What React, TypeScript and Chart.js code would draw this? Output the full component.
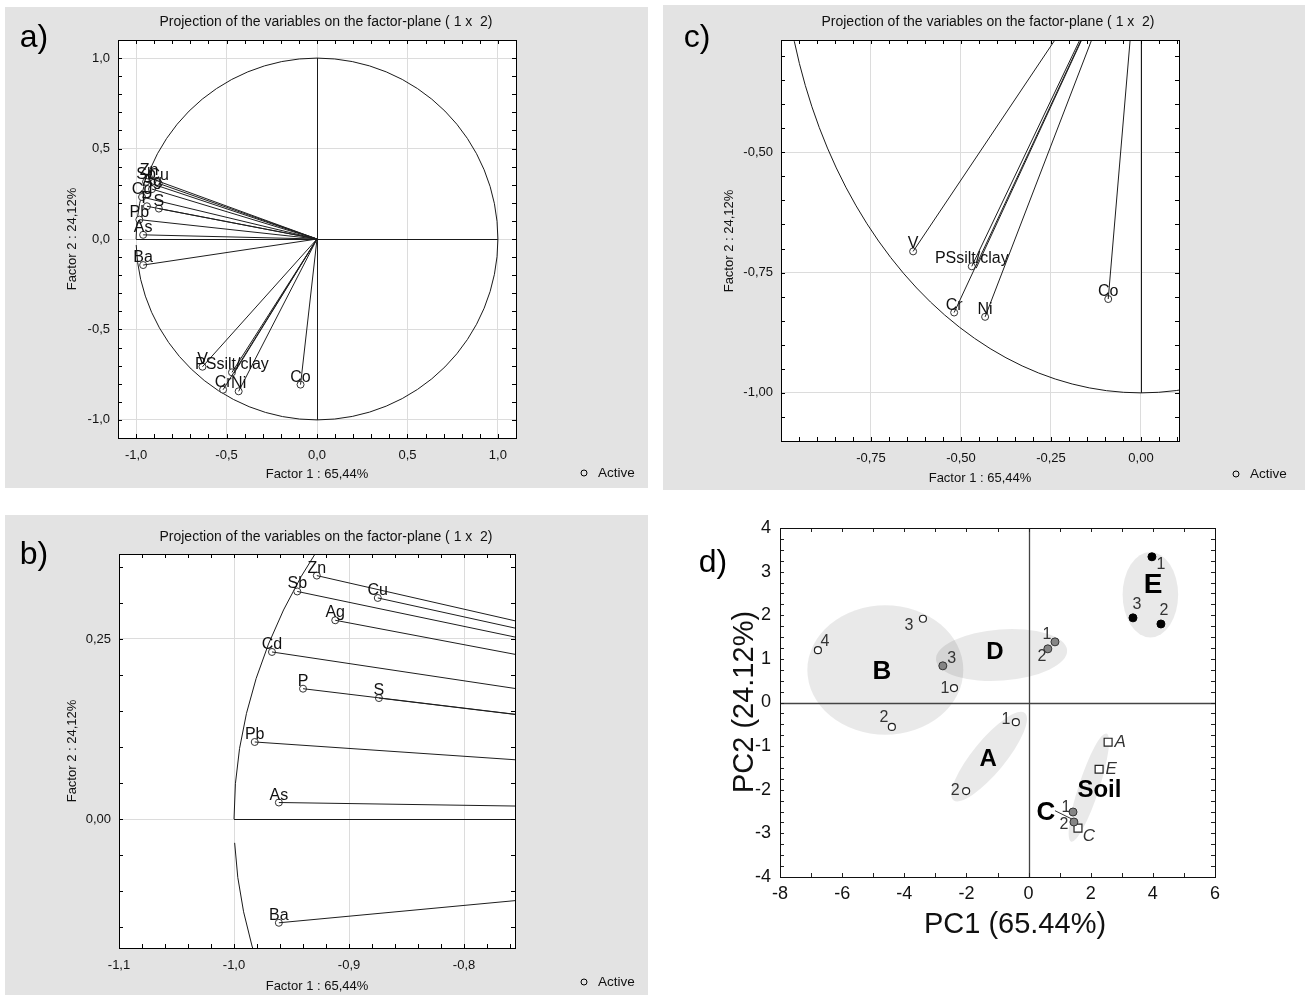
import React, { useEffect, useRef } from 'react';
import { Chart, registerables } from 'chart.js';

Chart.register(...registerables);

const FONT = '"Liberation Sans", Arial, Helvetica, sans-serif';
const PANEL_GRAY = '#e3e3e3';

// ---------- Variable loadings (Factor 1, Factor 2) ----------
const variableNames = ['Zn', 'Sb', 'Cu', 'Ag', 'Cd', 'P', 'S', 'Pb', 'As', 'Ba', 'V', 'PSsilt/clay', '', 'Cr', 'Ni', 'Co'];
const factor1Loadings = [-0.928, -0.945, -0.875, -0.912, -0.967, -0.94, -0.874, -0.982, -0.961, -0.961, -0.633, -0.47, -0.458, -0.519, -0.433, -0.091];
const factor2Loadings = [0.338, 0.316, 0.307, 0.276, 0.232, 0.181, 0.168, 0.107, 0.023, -0.144, -0.706, -0.737, -0.741, -0.833, -0.842, -0.805];

// ---------- Tick values ----------
const aTicksX = [-1, -0.5, 0, 0.5, 1];
const aTicksY = [-1, -0.5, 0, 0.5, 1];
const bTicksX = [-1.1, -1.0, -0.9, -0.8];
const bTicksY = [0, 0.25];
const cTicksX = [-0.75, -0.5, -0.25, 0];
const cTicksY = [-1, -0.75, -0.5];
const dTicksX = [-8, -6, -4, -2, 0, 2, 4, 6];
const dTicksY = [-4, -3, -2, -1, 0, 1, 2, 3, 4];

// ---------- Sample scores (PC1, PC2) ----------
const openScoreX = [-6.78, -3.4, -2.4, -4.4, -0.41, -2.01];
const openScoreY = [1.2, 1.92, 0.33, -0.56, -0.45, -2.03];
const openScoreLabels = ['4', '3', '1', '2', '1', '2'];

const grayScoreX = [-2.76, 0.85, 0.62, 1.43, 1.46];
const grayScoreY = [0.84, 1.39, 1.23, -2.51, -2.74];
const grayScoreLabels = ['3', '1', '2', '1', '2'];

const blackScoreX = [3.97, 3.36, 4.26];
const blackScoreY = [3.34, 1.94, 1.8];
const blackScoreLabels = ['1', '3', '2'];

const soilScoreX = [2.56, 2.27, 1.59];
const soilScoreY = [-0.91, -1.53, -2.88];
const soilScoreLabels = ['A', 'E', 'C'];

const groupNames = ['B', 'D', 'E', 'A', 'Soil', 'C'];

// ---------- Annotation geometry (positions / styles) ----------
const openLabelOffsets = [[7, -9], [-14, 7], [-9, 0], [-8, -9], [-10, -3], [-11, 0]];
const grayLabelOffsets = [[9, -7], [-8, -7], [-6, 8], [-7, -4], [-10, 3]];
const blackLabelOffsets = [[9, 8], [4, -13], [3, -13]];
const soilLabelOffsets = [[12, 0], [12, 0], [11, 8]];
const groupLabelAnchors = [[-4.72, 0.71], [-1.08, 1.14], [4.01, 2.69], [-1.3, -1.3], [2.28, -2.01], [0.56, -2.53]];
const groupLabelSizes = [26, 24, 28, 24, 24, 26];
const groupEllipses = [
  { c: [-4.61, 0.745], e: [-2.1, 0.745], r: 0.83 },
  { c: [-0.87, 1.09], e: [1.24, 1.2], r: 0.39 },
  { c: [3.92, 2.47], e: [3.92, 3.45], r: 0.65 },
  { c: [-1.27, -1.24], e: [-0.12, -0.24], r: 0.29 },
  { c: [1.94, -1.95], e: [2.51, -0.71], r: 0.18 },
];
const cConnector = [[0.85, -2.48], [1.39, -2.67]];

const fmt = (v: number, d: number) => (Math.abs(v) < 1e-9 ? 0 : v).toFixed(d).replace('.', ',');

function inwardTicks(ctx: any, chart: any, xStep: number, yStep: number, len: number) {
  const { chartArea: a, scales } = chart;
  const x = scales.x, y = scales.y;
  ctx.beginPath();
  for (let k = Math.ceil(x.min / xStep - 1e-6); k * xStep <= x.max + 1e-9; k++) {
    const p = Math.round(x.getPixelForValue(k * xStep)) + 0.5;
    ctx.moveTo(p, a.bottom); ctx.lineTo(p, a.bottom - len);
    ctx.moveTo(p, a.top); ctx.lineTo(p, a.top + len);
  }
  for (let k = Math.ceil(y.min / yStep - 1e-6); k * yStep <= y.max + 1e-9; k++) {
    const p = Math.round(y.getPixelForValue(k * yStep)) + 0.5;
    ctx.moveTo(a.left, p); ctx.lineTo(a.left + len, p);
    ctx.moveTo(a.right, p); ctx.lineTo(a.right - len, p);
  }
  ctx.stroke();
}

function drawFrame(ctx: any, a: any) {
  ctx.strokeRect(Math.round(a.left) + 0.5, Math.round(a.top) + 0.5, Math.round(a.right - a.left), Math.round(a.bottom - a.top));
}

type Rect = { left: number; top: number; width: number; height: number };
type Area = { L: number; T: number; R: number; B: number };

type StatPanel = {
  box: Rect; area: Area;
  xRange: number[]; yRange: number[];
  xTicks: number[]; yTicks: number[]; xDec: number; yDec: number;
  xMinor: number; yMinor: number;
  letter: string; letterPos: number[];
  titlePos: number[]; xTitlePos: number[]; yTitlePos: number[]; legendPos: number[];
};

const panelA: StatPanel = {
  box: { left: 5, top: 7, width: 643, height: 481 },
  area: { L: 118, T: 40, R: 516, B: 438 },
  xRange: [-1.1, 1.1], yRange: [-1.1, 1.1],
  xTicks: aTicksX, yTicks: aTicksY, xDec: 1, yDec: 1, xMinor: 0.1, yMinor: 0.1,
  letter: 'a)', letterPos: [34, 38],
  titlePos: [326, 22], xTitlePos: [317, 474], yTitlePos: [72, 239], legendPos: [584, 473],
};
const panelB: StatPanel = {
  box: { left: 5, top: 515, width: 643, height: 480 },
  area: { L: 119, T: 554, R: 515, B: 948 },
  xRange: [-1.1, -0.7557], yRange: [-0.179, 0.368],
  xTicks: bTicksX, yTicks: bTicksY, xDec: 1, yDec: 2, xMinor: 0.02, yMinor: 0.05,
  letter: 'b)', letterPos: [34, 555],
  titlePos: [326, 537], xTitlePos: [317, 986], yTitlePos: [72, 751], legendPos: [584, 982],
};
const panelC: StatPanel = {
  box: { left: 663, top: 5, width: 642, height: 485 },
  area: { L: 781, T: 40, R: 1179, B: 441 },
  xRange: [-1.0, 0.1056], yRange: [-1.1, -0.2667],
  xTicks: cTicksX, yTicks: cTicksY, xDec: 2, yDec: 2, xMinor: 0.05, yMinor: 0.05,
  letter: 'c)', letterPos: [697, 38],
  titlePos: [988, 22], xTitlePos: [980, 478], yTitlePos: [729, 241], legendPos: [1236, 474],
};

function statConfig(p: StatPanel): any {
  const { box, area } = p;
  const YW = 60, XH = 30;
  const padding = {
    left: area.L - box.left - YW,
    top: area.T - box.top,
    right: box.left + box.width - area.R,
    bottom: box.top + box.height - area.B - XH,
  };
  const ox = box.left, oy = box.top;
  const vectors = factor1Loadings.map((x, i) => ({
    data: [{ x: 0, y: 0 }, { x, y: factor2Loadings[i] }],
    showLine: true, borderColor: '#1e1e1e', borderWidth: 1, pointRadius: 0, pointHoverRadius: 0,
  }));
  const points = {
    data: factor1Loadings.map((x, i) => ({ x, y: factor2Loadings[i] })),
    showLine: false,
    pointRadius: variableNames.map((n) => (n ? 3.5 : 0)),
    pointBackgroundColor: '#ffffff', pointBorderColor: '#333333', pointBorderWidth: 1,
  };
  const tickFont = { family: FONT, size: 13 };
  const plugin = {
    id: 'statDecor',
    beforeDraw(chart: any) {
      const { ctx, width, height, chartArea: a } = chart;
      ctx.save();
      ctx.fillStyle = PANEL_GRAY; ctx.fillRect(0, 0, width, height);
      ctx.fillStyle = '#ffffff'; ctx.fillRect(a.left, a.top, a.right - a.left, a.bottom - a.top);
      ctx.restore();
    },
    beforeDatasetsDraw(chart: any) {
      const { ctx, chartArea: a, scales } = chart;
      const x = scales.x, y = scales.y;
      ctx.save();
      ctx.beginPath(); ctx.rect(a.left, a.top, a.right - a.left, a.bottom - a.top); ctx.clip();
      const x0 = x.getPixelForValue(0), y0 = y.getPixelForValue(0);
      const rx = x.getPixelForValue(1) - x0, ry = y0 - y.getPixelForValue(1);
      ctx.strokeStyle = '#1a1a1a'; ctx.lineWidth = 1;
      ctx.beginPath(); ctx.ellipse(x0, y0, rx, ry, 0, Math.PI, 3 * Math.PI - 0.033); ctx.stroke();
      const yy = Math.round(y0) + 0.5, xx = Math.round(x0) + 0.5;
      ctx.beginPath();
      ctx.moveTo(x.getPixelForValue(-1), yy); ctx.lineTo(x.getPixelForValue(1), yy);
      ctx.moveTo(xx, y.getPixelForValue(1)); ctx.lineTo(xx, y.getPixelForValue(-1));
      ctx.stroke();
      ctx.restore();
    },
    afterDatasetsDraw(chart: any) {
      const { ctx, chartArea: a, scales } = chart;
      ctx.save();
      ctx.beginPath(); ctx.rect(a.left, a.top, a.right - a.left, a.bottom - a.top); ctx.clip();
      ctx.font = `16px ${FONT}`; ctx.fillStyle = '#111'; ctx.textAlign = 'center'; ctx.textBaseline = 'alphabetic';
      variableNames.forEach((n, i) => {
        if (!n) return;
        const px = scales.x.getPixelForValue(factor1Loadings[i]);
        const py = scales.y.getPixelForValue(factor2Loadings[i]);
        if (px < a.left || px > a.right || py < a.top || py > a.bottom) return;
        ctx.fillText(n, px, py - 3);
      });
      ctx.restore();
    },
    afterDraw(chart: any) {
      const { ctx, chartArea: a } = chart;
      ctx.save();
      ctx.strokeStyle = '#000'; ctx.lineWidth = 1;
      inwardTicks(ctx, chart, p.xMinor, p.yMinor, 4);
      drawFrame(ctx, a);
      ctx.fillStyle = '#111';
      ctx.textAlign = 'center'; ctx.textBaseline = 'middle';
      ctx.font = `14px ${FONT}`;
      ctx.fillText('Projection of the variables on the factor-plane ( 1 x  2)', p.titlePos[0] - ox, p.titlePos[1] - oy);
      ctx.font = `13px ${FONT}`;
      ctx.fillText('Factor 1 : 65,44%', p.xTitlePos[0] - ox, p.xTitlePos[1] - oy);
      ctx.save();
      ctx.translate(p.yTitlePos[0] - ox, p.yTitlePos[1] - oy); ctx.rotate(-Math.PI / 2);
      ctx.fillText('Factor 2 : 24,12%', 0, 0);
      ctx.restore();
      ctx.beginPath(); ctx.arc(p.legendPos[0] - ox, p.legendPos[1] - oy, 3, 0, 2 * Math.PI); ctx.stroke();
      ctx.textAlign = 'left';
      ctx.font = `13.5px ${FONT}`;
      ctx.fillText('Active', p.legendPos[0] - ox + 14, p.legendPos[1] - oy);
      ctx.textAlign = 'center';
      ctx.font = `32px ${FONT}`; ctx.fillStyle = '#000';
      ctx.fillText(p.letter, p.letterPos[0] - ox, p.letterPos[1] - oy);
      ctx.restore();
    },
  };
  return {
    type: 'scatter',
    data: { datasets: [...vectors, points] },
    options: {
      animation: false, responsive: false, devicePixelRatio: 1, events: [],
      layout: { padding },
      plugins: { legend: { display: false }, tooltip: { enabled: false }, title: { display: false } },
      scales: {
        x: {
          type: 'linear', min: p.xRange[0], max: p.xRange[1],
          afterBuildTicks: (s: any) => { s.ticks = p.xTicks.map((v) => ({ value: v })); },
          afterFit: (s: any) => { s.height = XH; },
          grid: { color: '#dcdcdc', lineWidth: 1, drawTicks: false },
          border: { display: false },
          ticks: { font: tickFont, color: '#111', padding: 10, autoSkip: false, maxRotation: 0, minRotation: 0, callback: (v: any) => fmt(Number(v), p.xDec) },
        },
        y: {
          type: 'linear', min: p.yRange[0], max: p.yRange[1],
          afterBuildTicks: (s: any) => { s.ticks = p.yTicks.map((v) => ({ value: v })); },
          afterFit: (s: any) => { s.width = YW; },
          grid: { color: '#dcdcdc', lineWidth: 1, drawTicks: false },
          border: { display: false },
          ticks: { font: tickFont, color: '#111', padding: 8, autoSkip: false, callback: (v: any) => fmt(Number(v), p.yDec) },
        },
      },
    },
    plugins: [plugin],
  };
}

const panelDBox: Rect = { left: 663, top: 500, width: 646, height: 496 };
const panelDArea: Area = { L: 780, T: 528, R: 1215, B: 877 };

function scoreConfig(): any {
  const box = panelDBox, area = panelDArea;
  const YW = 60, XH = 40;
  const padding = {
    left: area.L - box.left - YW,
    top: area.T - box.top,
    right: box.left + box.width - area.R,
    bottom: box.top + box.height - area.B - XH,
  };
  const ox = box.left, oy = box.top;
  const pts = (xs: number[], ys: number[]) => xs.map((x, i) => ({ x, y: ys[i] }));
  const datasets = [
    { data: pts(openScoreX, openScoreY), pointStyle: 'circle', pointRadius: 3.5, pointBackgroundColor: '#ffffff', pointBorderColor: '#222', pointBorderWidth: 1.2 },
    { data: pts(grayScoreX, grayScoreY), pointStyle: 'circle', pointRadius: 4, pointBackgroundColor: '#858585', pointBorderColor: '#333', pointBorderWidth: 1 },
    { data: pts(blackScoreX, blackScoreY), pointStyle: 'circle', pointRadius: 4, pointBackgroundColor: '#000000', pointBorderColor: '#000', pointBorderWidth: 1 },
    { data: pts(soilScoreX, soilScoreY), pointStyle: 'rect', pointRadius: 5.6, pointBackgroundColor: '#ffffff', pointBorderColor: '#222', pointBorderWidth: 1.2 },
  ];
  const labelSets = [
    { xs: openScoreX, ys: openScoreY, labels: openScoreLabels, off: openLabelOffsets, italic: false },
    { xs: grayScoreX, ys: grayScoreY, labels: grayScoreLabels, off: grayLabelOffsets, italic: false },
    { xs: blackScoreX, ys: blackScoreY, labels: blackScoreLabels, off: blackLabelOffsets, italic: false },
    { xs: soilScoreX, ys: soilScoreY, labels: soilScoreLabels, off: soilLabelOffsets, italic: true },
  ];
  const tickFont = { family: FONT, size: 18 };
  const plugin = {
    id: 'scoreDecor',
    beforeDraw(chart: any) {
      const { ctx, width, height } = chart;
      ctx.save(); ctx.fillStyle = '#ffffff'; ctx.fillRect(0, 0, width, height); ctx.restore();
    },
    beforeDatasetsDraw(chart: any) {
      const { ctx, chartArea: a, scales } = chart;
      const x = scales.x, y = scales.y;
      ctx.save();
      ctx.beginPath(); ctx.rect(a.left, a.top, a.right - a.left, a.bottom - a.top); ctx.clip();
      ctx.fillStyle = 'rgba(0,0,0,0.085)';
      groupEllipses.forEach((g) => {
        const cx = x.getPixelForValue(g.c[0]), cy = y.getPixelForValue(g.c[1]);
        const ex = x.getPixelForValue(g.e[0]), ey = y.getPixelForValue(g.e[1]);
        const maj = Math.hypot(ex - cx, ey - cy);
        ctx.beginPath();
        ctx.ellipse(cx, cy, maj, maj * g.r, Math.atan2(ey - cy, ex - cx), 0, 2 * Math.PI);
        ctx.fill();
      });
      ctx.strokeStyle = '#444'; ctx.lineWidth = 1.3;
      const x0 = Math.round(x.getPixelForValue(0)) + 0.5, y0 = Math.round(y.getPixelForValue(0)) + 0.5;
      ctx.beginPath();
      ctx.moveTo(a.left, y0); ctx.lineTo(a.right, y0);
      ctx.moveTo(x0, a.top); ctx.lineTo(x0, a.bottom);
      ctx.stroke();
      ctx.strokeStyle = '#333'; ctx.lineWidth = 1;
      ctx.beginPath();
      ctx.moveTo(x.getPixelForValue(cConnector[0][0]), y.getPixelForValue(cConnector[0][1]));
      ctx.lineTo(x.getPixelForValue(cConnector[1][0]), y.getPixelForValue(cConnector[1][1]));
      ctx.stroke();
      ctx.restore();
    },
    afterDatasetsDraw(chart: any) {
      const { ctx, scales } = chart;
      const x = scales.x, y = scales.y;
      ctx.save();
      ctx.textAlign = 'center'; ctx.textBaseline = 'middle'; ctx.fillStyle = '#333';
      labelSets.forEach((s) => {
        ctx.font = s.italic ? `italic 17px ${FONT}` : `16px ${FONT}`;
        s.labels.forEach((l, i) => {
          ctx.fillText(l, x.getPixelForValue(s.xs[i]) + s.off[i][0], y.getPixelForValue(s.ys[i]) + s.off[i][1]);
        });
      });
      ctx.fillStyle = '#000';
      groupNames.forEach((g, i) => {
        ctx.font = `bold ${groupLabelSizes[i]}px ${FONT}`;
        ctx.fillText(g, x.getPixelForValue(groupLabelAnchors[i][0]), y.getPixelForValue(groupLabelAnchors[i][1]));
      });
      ctx.restore();
    },
    afterDraw(chart: any) {
      const { ctx, chartArea: a } = chart;
      ctx.save();
      ctx.strokeStyle = '#222'; ctx.lineWidth = 1;
      inwardTicks(ctx, chart, 1, 0.25, 4);
      ctx.strokeStyle = '#111';
      drawFrame(ctx, a);
      ctx.fillStyle = '#111'; ctx.textAlign = 'center'; ctx.textBaseline = 'middle';
      ctx.font = `29px ${FONT}`;
      ctx.fillText('PC1 (65.44%)', 1015 - ox, 925 - oy);
      ctx.save();
      ctx.translate(745 - ox, 702 - oy); ctx.rotate(-Math.PI / 2);
      ctx.fillText('PC2 (24.12%)', 0, 0);
      ctx.restore();
      ctx.font = `32px ${FONT}`; ctx.fillStyle = '#000';
      ctx.fillText('d)', 713 - ox, 563 - oy);
      ctx.restore();
    },
  };
  return {
    type: 'scatter',
    data: { datasets },
    options: {
      animation: false, responsive: false, devicePixelRatio: 1, events: [],
      layout: { padding },
      plugins: { legend: { display: false }, tooltip: { enabled: false }, title: { display: false } },
      scales: {
        x: {
          type: 'linear', min: -8, max: 6,
          afterBuildTicks: (s: any) => { s.ticks = dTicksX.map((v) => ({ value: v })); },
          afterFit: (s: any) => { s.height = XH; },
          grid: { display: false, drawTicks: false },
          border: { display: false },
          ticks: { font: tickFont, color: '#111', padding: 6, autoSkip: false, maxRotation: 0, minRotation: 0, callback: (v: any) => String(v) },
        },
        y: {
          type: 'linear', min: -4, max: 4,
          afterBuildTicks: (s: any) => { s.ticks = dTicksY.map((v) => ({ value: v })); },
          afterFit: (s: any) => { s.width = YW; },
          grid: { display: false, drawTicks: false },
          border: { display: false },
          ticks: { font: tickFont, color: '#111', padding: 9, autoSkip: false, callback: (v: any) => String(v) },
        },
      },
    },
    plugins: [plugin],
  };
}

function ChartCanvas({ box, make }: { box: Rect; make: () => any }) {
  const ref = useRef<HTMLCanvasElement | null>(null);
  useEffect(() => {
    if (!ref.current) return;
    const chart = new Chart(ref.current, make());
    return () => chart.destroy();
  }, []);
  return (
    <canvas
      ref={ref}
      width={box.width}
      height={box.height}
      style={{ position: 'absolute', left: box.left, top: box.top, width: box.width, height: box.height }}
    />
  );
}

export default function App() {
  return (
    <div style={{ position: 'absolute', left: 0, top: 0, width: 1309, height: 996, background: '#ffffff', overflow: 'hidden' }}>
      <ChartCanvas box={panelA.box} make={() => statConfig(panelA)} />
      <ChartCanvas box={panelB.box} make={() => statConfig(panelB)} />
      <ChartCanvas box={panelC.box} make={() => statConfig(panelC)} />
      <ChartCanvas box={panelDBox} make={scoreConfig} />
    </div>
  );
}
